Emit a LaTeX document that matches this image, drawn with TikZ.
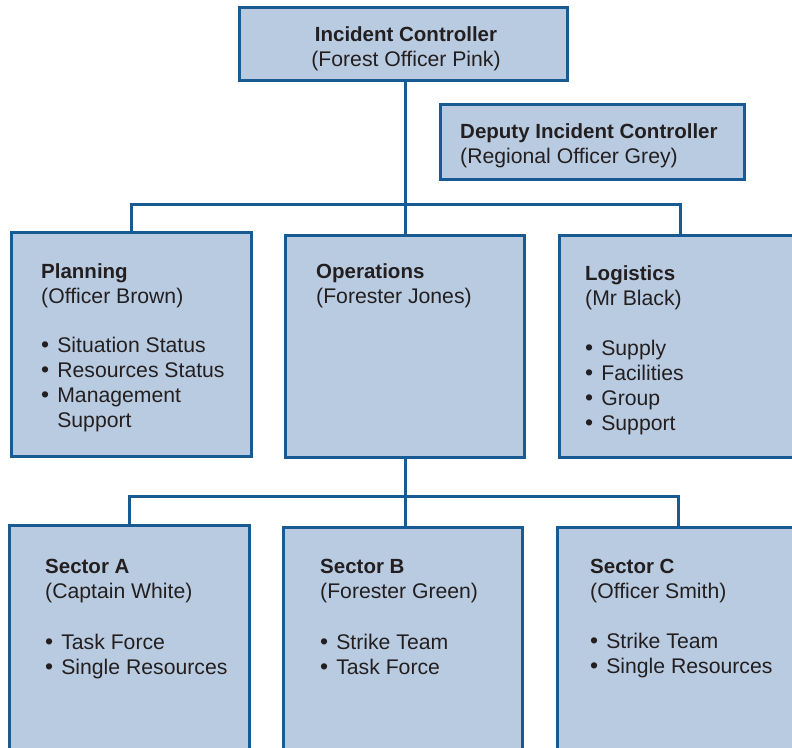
\documentclass[tikz,border=0pt]{standalone}
\usepackage{fontspec}
\setmainfont{Liberation Sans}
\usetikzlibrary{positioning}

\definecolor{boxfill}{HTML}{B9CBE1}
\definecolor{boxline}{HTML}{185A92}
\definecolor{ink}{HTML}{231F20}
\newcommand{\itm}{{\fontsize{23}{25}\selectfont\textbullet}\hspace{0.38em}}
\newcommand{\hd}[1]{{\fontsize{20.5}{25}\selectfont\bfseries #1}}

\begin{document}
\begin{tikzpicture}[x=1pt,y=-1pt,
                unit node/.style={rectangle,draw=boxline,fill=boxfill,line width=3pt,inner sep=0pt},
                text node/.style={anchor=base west,align=left,inner sep=0pt,text=ink,
                  font=\fontsize{21.2}{25}\selectfont},
                link/.style={draw=boxline,line width=3pt}]

  \useasboundingbox (0,0) rectangle (792,747);
  \clip (0,0) rectangle (792,747);

  % connectors
  \coordinate (bar1 left) at (131,204);
  \coordinate (bar1 mid) at (405,204);
  \coordinate (bar1 right) at (680,204);
  \coordinate (bar2 left) at (129,496);
  \coordinate (bar2 mid) at (405,496);
  \coordinate (bar2 right) at (678,496);

  \draw[link] (bar1 mid |- 0,80) -- (bar2 mid);
  \draw[link] (bar1 left |- 0,232) -- (bar1 left) -- (bar1 right) -- (bar1 right |- 0,235);
  \draw[link] (bar2 left |- 0,525) -- (bar2 left) -- (bar2 right) -- (bar2 right |- 0,527);
  \draw[link] (bar2 mid) -- (bar2 mid |- 0,527);

  % boxes
  \node[unit node,minimum width=328,minimum height=73] (ic)   at (403,43.5)  {};
  \node[unit node,minimum width=304,minimum height=75] (dep)  at (592,141.5) {};
  \node[unit node,minimum width=240,minimum height=224] (plan) at (131,344)  {};
  \node[unit node,minimum width=239,minimum height=222] (ops)  at (404.5,346) {};
  \node[unit node,minimum width=261,minimum height=222] (log)  at (689.5,346) {};
  \node[unit node,minimum width=240,minimum height=255] (secA) at (129,652.5) {};
  \node[unit node,minimum width=239,minimum height=253] (secB) at (402.5,653.5) {};
  \node[unit node,minimum width=263,minimum height=253] (secC) at (688.5,653.5) {};

  % texts (placed by the baseline of their last line)
  \node[text node,anchor=base,align=center] (ic text) at (406,66)
    {\hd{Incident Controller}\\(Forest Officer Pink)};
  \node[text node] (dep text) at (460,163)
    {\hd{Deputy Incident Controller}\\(Regional Officer Grey)};
  \node[text node] (plan text) at (41,427)
    {\hd{Planning}\\(Officer Brown)\\[24pt]\itm Situation Status\\\itm Resources Status\\
     \itm Management\\\phantom{\itm}Support};
  \node[text node] (ops text) at (316,303)
    {\hd{Operations}\\(Forester Jones)};
  \node[text node] (log text) at (585,430)
    {\hd{Logistics}\\(Mr Black)\\[25pt]\itm Supply\\\itm Facilities\\\itm Group\\\itm Support};
  \node[text node] (secA text) at (45,674)
    {\hd{Sector A}\\(Captain White)\\[26pt]\itm Task Force\\\itm Single Resources};
  \node[text node] (secB text) at (320,674)
    {\hd{Sector B}\\(Forester Green)\\[26pt]\itm Strike Team\\\itm Task Force};
  \node[text node] (secC text) at (590,673)
    {\hd{Sector C}\\(Officer Smith)\\[25pt]\itm Strike Team\\\itm Single Resources};
\end{tikzpicture}
\end{document}
